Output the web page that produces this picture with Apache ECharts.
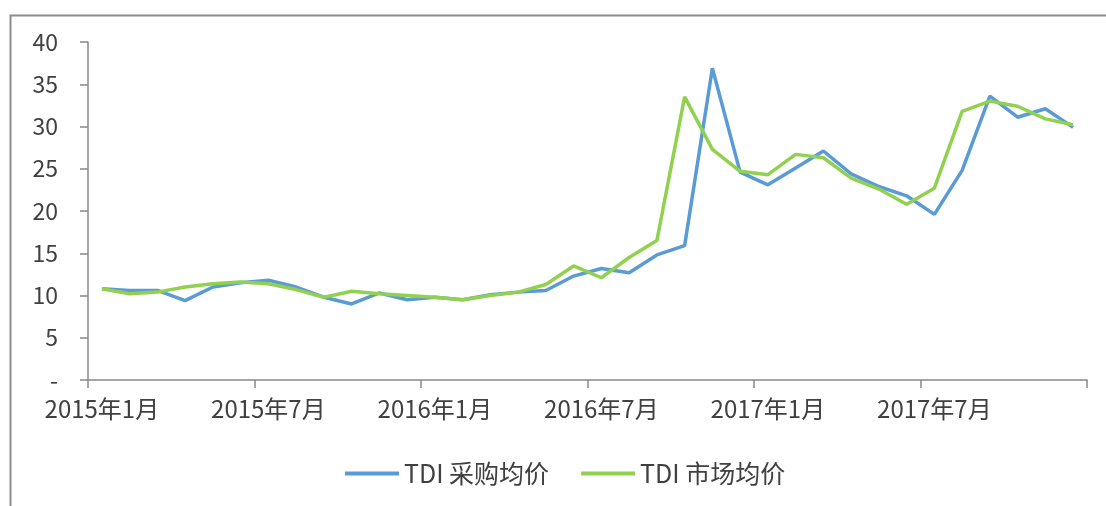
<!DOCTYPE html>
<html>
<head>
<meta charset="utf-8">
<title>TDI 均价</title>
<script src="https://cdn.jsdelivr.net/npm/echarts@6/dist/echarts.min.js"></script>
<style>
  html, body { margin: 0; padding: 0; background: #fff; }
  #chart { width: 1106px; height: 506px; }
</style>
</head>
<body>
<div id="chart"></div>
<script>
// 月份
const months = [
  '2015年1月', '2015年2月', '2015年3月', '2015年4月', '2015年5月', '2015年6月',
  '2015年7月', '2015年8月', '2015年9月', '2015年10月', '2015年11月', '2015年12月',
  '2016年1月', '2016年2月', '2016年3月', '2016年4月', '2016年5月', '2016年6月',
  '2016年7月', '2016年8月', '2016年9月', '2016年10月', '2016年11月', '2016年12月',
  '2017年1月', '2017年2月', '2017年3月', '2017年4月', '2017年5月', '2017年6月',
  '2017年7月', '2017年8月', '2017年9月', '2017年10月', '2017年11月', '2017年12月'
]

// TDI 采购均价
const purchasePrice = [
  10.8, 10.6, 10.6, 9.4, 11.0, 11.5, 11.8, 11.0, 9.8, 9.0, 10.3, 9.5,
  9.8, 9.5, 10.1, 10.4, 10.6, 12.3, 13.2, 12.7, 14.8, 15.9, 36.9, 24.6,
  23.1, 25.1, 27.1, 24.4, 22.9, 21.8, 19.6, 24.8, 33.6, 31.1, 32.1, 29.9
]

// TDI 市场均价
const marketPrice = [
  10.8, 10.2, 10.4, 11.0, 11.4, 11.6, 11.4, 10.7, 9.8, 10.5, 10.2, 10.0,
  9.8, 9.5, 10.0, 10.4, 11.3, 13.5, 12.1, 14.5, 16.5, 33.5, 27.3, 24.7,
  24.3, 26.7, 26.3, 23.9, 22.6, 20.8, 22.7, 31.8, 33.0, 32.4, 30.9, 30.2
]

const seriesNames = ['TDI 采购均价', 'TDI 市场均价']

const textColor = '#404040'
const axisColor = '#898989'
const fontFamily = '"Noto Sans CJK SC", "Noto Sans", sans-serif'

const chart = echarts.init(document.getElementById('chart'), null, { renderer: 'canvas' })

const option = {
  backgroundColor: '#fff',
  animation: false,
  textStyle: { fontFamily: fontFamily },
  // 外框
  graphic: [{
    type: 'rect',
    left: 8,
    top: 13,
    shape: { width: 1200, height: 600 },
    style: { fill: 'none', stroke: '#8c8c8c', lineWidth: 2 },
    silent: true
  }],
  grid: {
    left: 88,
    right: 19,
    top: 42,
    bottom: 126,
    containLabel: false
  },
  legend: {
    data: seriesNames,
    left: 340,
    top: 456,
    icon: 'rect',
    itemWidth: 54,
    itemHeight: 4,
    itemGap: 32,
    textStyle: { fontSize: 25, color: textColor, fontFamily: fontFamily }
  },
  xAxis: {
    type: 'category',
    data: months,
    boundaryGap: true,
    axisLine: { lineStyle: { color: axisColor, width: 1.5 } },
    axisTick: { show: true, interval: 5, length: 8, lineStyle: { color: axisColor, width: 1.5 } },
    axisLabel: {
      interval: 5,
      fontSize: 24,
      color: textColor,
      margin: 17,
      fontFamily: fontFamily
    },
    splitLine: { show: false }
  },
  yAxis: {
    type: 'value',
    min: 0,
    max: 40,
    interval: 5,
    axisLine: { show: true, lineStyle: { color: axisColor, width: 1.5 } },
    axisTick: { show: true, length: 8, lineStyle: { color: axisColor, width: 1.5 } },
    axisLabel: {
      fontSize: 23,
      color: textColor,
      margin: 30,
      fontFamily: fontFamily,
      formatter: function (v) { return v === 0 ? '-' : String(v) }
    },
    splitLine: { show: false }
  },
  series: [
    {
      name: seriesNames[0],
      type: 'line',
      data: purchasePrice,
      symbol: 'none',
      color: '#5B9BD5',
      lineStyle: { color: '#5B9BD5', width: 3.5 }
    },
    {
      name: seriesNames[1],
      type: 'line',
      data: marketPrice,
      symbol: 'none',
      color: '#92D050',
      lineStyle: { color: '#92D050', width: 3.5 }
    }
  ]
}

chart.setOption(option)
</script>
</body>
</html>
